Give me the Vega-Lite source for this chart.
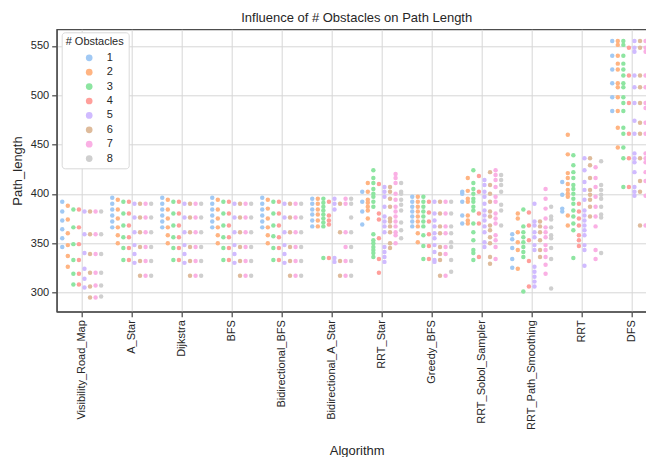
{
"$schema": "https://vega.github.io/schema/vega-lite/v6.json",
"width": 590,
"height": 282.4,
"autosize": "none",
"padding": {"left": 56.7, "top": 29.3, "right": 0, "bottom": 145.3},
"background": "white",
"config": {
  "font": "Liberation Sans",
  "view": {"stroke": "#4d4d4d", "strokeWidth": 1.25},
  "axis": {"labelFontSize": 11, "labelColor": "#262626", "titleFontSize": 13, "titleFontWeight": "normal", "titleColor": "#262626", "domainColor": "#4d4d4d", "domainWidth": 1.25, "tickColor": "#4d4d4d", "tickWidth": 1.25, "tickSize": 5, "labelPadding": 3, "gridColor": "#d6d6d6", "gridWidth": 1}
},
"title": {"text": "Influence of # Obstacles on Path Length", "fontSize": 13, "fontWeight": "normal", "color": "#262626", "anchor": "middle", "dx": 5, "offset": 4},
"data": {"values": [
{"alg":"Visibility_Road_Map","obs":1,"len":392},{"alg":"Visibility_Road_Map","obs":1,"len":382},{"alg":"Visibility_Road_Map","obs":1,"len":373},{"alg":"Visibility_Road_Map","obs":1,"len":364},{"alg":"Visibility_Road_Map","obs":1,"len":355},{"alg":"Visibility_Road_Map","obs":1,"len":346},
{"alg":"Visibility_Road_Map","obs":2,"len":388},{"alg":"Visibility_Road_Map","obs":2,"len":374},{"alg":"Visibility_Road_Map","obs":2,"len":360},{"alg":"Visibility_Road_Map","obs":2,"len":348},{"alg":"Visibility_Road_Map","obs":2,"len":337},{"alg":"Visibility_Road_Map","obs":2,"len":326},
{"alg":"Visibility_Road_Map","obs":3,"len":384},{"alg":"Visibility_Road_Map","obs":3,"len":366},{"alg":"Visibility_Road_Map","obs":3,"len":349},{"alg":"Visibility_Road_Map","obs":3,"len":333},{"alg":"Visibility_Road_Map","obs":3,"len":319},{"alg":"Visibility_Road_Map","obs":3,"len":308},
{"alg":"Visibility_Road_Map","obs":4,"len":384},{"alg":"Visibility_Road_Map","obs":4,"len":366},{"alg":"Visibility_Road_Map","obs":4,"len":349},{"alg":"Visibility_Road_Map","obs":4,"len":333},{"alg":"Visibility_Road_Map","obs":4,"len":319},{"alg":"Visibility_Road_Map","obs":4,"len":308},
{"alg":"Visibility_Road_Map","obs":5,"len":382},{"alg":"Visibility_Road_Map","obs":5,"len":359},{"alg":"Visibility_Road_Map","obs":5,"len":340},{"alg":"Visibility_Road_Map","obs":5,"len":324},{"alg":"Visibility_Road_Map","obs":5,"len":314},{"alg":"Visibility_Road_Map","obs":5,"len":305},
{"alg":"Visibility_Road_Map","obs":6,"len":382},{"alg":"Visibility_Road_Map","obs":6,"len":359},{"alg":"Visibility_Road_Map","obs":6,"len":339},{"alg":"Visibility_Road_Map","obs":6,"len":320},{"alg":"Visibility_Road_Map","obs":6,"len":306},{"alg":"Visibility_Road_Map","obs":6,"len":295},
{"alg":"Visibility_Road_Map","obs":7,"len":382},{"alg":"Visibility_Road_Map","obs":7,"len":359},{"alg":"Visibility_Road_Map","obs":7,"len":339},{"alg":"Visibility_Road_Map","obs":7,"len":320},{"alg":"Visibility_Road_Map","obs":7,"len":307},{"alg":"Visibility_Road_Map","obs":7,"len":295},
{"alg":"Visibility_Road_Map","obs":8,"len":382},{"alg":"Visibility_Road_Map","obs":8,"len":359},{"alg":"Visibility_Road_Map","obs":8,"len":339},{"alg":"Visibility_Road_Map","obs":8,"len":320},{"alg":"Visibility_Road_Map","obs":8,"len":307},{"alg":"Visibility_Road_Map","obs":8,"len":296},
{"alg":"A_Star","obs":1,"len":396},{"alg":"A_Star","obs":1,"len":390},{"alg":"A_Star","obs":1,"len":384},{"alg":"A_Star","obs":1,"len":378},{"alg":"A_Star","obs":1,"len":372},{"alg":"A_Star","obs":1,"len":366},
{"alg":"A_Star","obs":2,"len":394},{"alg":"A_Star","obs":2,"len":384},{"alg":"A_Star","obs":2,"len":375},{"alg":"A_Star","obs":2,"len":366},{"alg":"A_Star","obs":2,"len":358},{"alg":"A_Star","obs":2,"len":350},
{"alg":"A_Star","obs":3,"len":392},{"alg":"A_Star","obs":3,"len":380},{"alg":"A_Star","obs":3,"len":368},{"alg":"A_Star","obs":3,"len":356},{"alg":"A_Star","obs":3,"len":345},{"alg":"A_Star","obs":3,"len":333},
{"alg":"A_Star","obs":4,"len":392},{"alg":"A_Star","obs":4,"len":380},{"alg":"A_Star","obs":4,"len":368},{"alg":"A_Star","obs":4,"len":356},{"alg":"A_Star","obs":4,"len":345},{"alg":"A_Star","obs":4,"len":333},
{"alg":"A_Star","obs":5,"len":390},{"alg":"A_Star","obs":5,"len":376},{"alg":"A_Star","obs":5,"len":361},{"alg":"A_Star","obs":5,"len":348},{"alg":"A_Star","obs":5,"len":339},{"alg":"A_Star","obs":5,"len":330},
{"alg":"A_Star","obs":6,"len":390},{"alg":"A_Star","obs":6,"len":376},{"alg":"A_Star","obs":6,"len":361},{"alg":"A_Star","obs":6,"len":346},{"alg":"A_Star","obs":6,"len":332},{"alg":"A_Star","obs":6,"len":317},
{"alg":"A_Star","obs":7,"len":390},{"alg":"A_Star","obs":7,"len":376},{"alg":"A_Star","obs":7,"len":361},{"alg":"A_Star","obs":7,"len":346},{"alg":"A_Star","obs":7,"len":332},{"alg":"A_Star","obs":7,"len":317},
{"alg":"A_Star","obs":8,"len":390},{"alg":"A_Star","obs":8,"len":376},{"alg":"A_Star","obs":8,"len":361},{"alg":"A_Star","obs":8,"len":346},{"alg":"A_Star","obs":8,"len":332},{"alg":"A_Star","obs":8,"len":317},
{"alg":"Dijkstra","obs":1,"len":396},{"alg":"Dijkstra","obs":1,"len":390},{"alg":"Dijkstra","obs":1,"len":384},{"alg":"Dijkstra","obs":1,"len":378},{"alg":"Dijkstra","obs":1,"len":372},{"alg":"Dijkstra","obs":1,"len":366},
{"alg":"Dijkstra","obs":2,"len":394},{"alg":"Dijkstra","obs":2,"len":384},{"alg":"Dijkstra","obs":2,"len":375},{"alg":"Dijkstra","obs":2,"len":366},{"alg":"Dijkstra","obs":2,"len":358},{"alg":"Dijkstra","obs":2,"len":350},
{"alg":"Dijkstra","obs":3,"len":392},{"alg":"Dijkstra","obs":3,"len":380},{"alg":"Dijkstra","obs":3,"len":368},{"alg":"Dijkstra","obs":3,"len":356},{"alg":"Dijkstra","obs":3,"len":345},{"alg":"Dijkstra","obs":3,"len":333},
{"alg":"Dijkstra","obs":4,"len":392},{"alg":"Dijkstra","obs":4,"len":380},{"alg":"Dijkstra","obs":4,"len":368},{"alg":"Dijkstra","obs":4,"len":356},{"alg":"Dijkstra","obs":4,"len":345},{"alg":"Dijkstra","obs":4,"len":333},
{"alg":"Dijkstra","obs":5,"len":390},{"alg":"Dijkstra","obs":5,"len":376},{"alg":"Dijkstra","obs":5,"len":361},{"alg":"Dijkstra","obs":5,"len":348},{"alg":"Dijkstra","obs":5,"len":339},{"alg":"Dijkstra","obs":5,"len":330},
{"alg":"Dijkstra","obs":6,"len":390},{"alg":"Dijkstra","obs":6,"len":376},{"alg":"Dijkstra","obs":6,"len":361},{"alg":"Dijkstra","obs":6,"len":346},{"alg":"Dijkstra","obs":6,"len":332},{"alg":"Dijkstra","obs":6,"len":317},
{"alg":"Dijkstra","obs":7,"len":390},{"alg":"Dijkstra","obs":7,"len":376},{"alg":"Dijkstra","obs":7,"len":361},{"alg":"Dijkstra","obs":7,"len":346},{"alg":"Dijkstra","obs":7,"len":332},{"alg":"Dijkstra","obs":7,"len":317},
{"alg":"Dijkstra","obs":8,"len":390},{"alg":"Dijkstra","obs":8,"len":376},{"alg":"Dijkstra","obs":8,"len":361},{"alg":"Dijkstra","obs":8,"len":346},{"alg":"Dijkstra","obs":8,"len":332},{"alg":"Dijkstra","obs":8,"len":317},
{"alg":"BFS","obs":1,"len":396},{"alg":"BFS","obs":1,"len":390},{"alg":"BFS","obs":1,"len":384},{"alg":"BFS","obs":1,"len":378},{"alg":"BFS","obs":1,"len":372},{"alg":"BFS","obs":1,"len":366},
{"alg":"BFS","obs":2,"len":394},{"alg":"BFS","obs":2,"len":384},{"alg":"BFS","obs":2,"len":375},{"alg":"BFS","obs":2,"len":366},{"alg":"BFS","obs":2,"len":358},{"alg":"BFS","obs":2,"len":350},
{"alg":"BFS","obs":3,"len":392},{"alg":"BFS","obs":3,"len":380},{"alg":"BFS","obs":3,"len":368},{"alg":"BFS","obs":3,"len":356},{"alg":"BFS","obs":3,"len":345},{"alg":"BFS","obs":3,"len":333},
{"alg":"BFS","obs":4,"len":392},{"alg":"BFS","obs":4,"len":380},{"alg":"BFS","obs":4,"len":368},{"alg":"BFS","obs":4,"len":356},{"alg":"BFS","obs":4,"len":345},{"alg":"BFS","obs":4,"len":333},
{"alg":"BFS","obs":5,"len":390},{"alg":"BFS","obs":5,"len":376},{"alg":"BFS","obs":5,"len":361},{"alg":"BFS","obs":5,"len":348},{"alg":"BFS","obs":5,"len":339},{"alg":"BFS","obs":5,"len":330},
{"alg":"BFS","obs":6,"len":390},{"alg":"BFS","obs":6,"len":376},{"alg":"BFS","obs":6,"len":361},{"alg":"BFS","obs":6,"len":346},{"alg":"BFS","obs":6,"len":332},{"alg":"BFS","obs":6,"len":317},
{"alg":"BFS","obs":7,"len":390},{"alg":"BFS","obs":7,"len":376},{"alg":"BFS","obs":7,"len":361},{"alg":"BFS","obs":7,"len":346},{"alg":"BFS","obs":7,"len":332},{"alg":"BFS","obs":7,"len":317},
{"alg":"BFS","obs":8,"len":390},{"alg":"BFS","obs":8,"len":376},{"alg":"BFS","obs":8,"len":361},{"alg":"BFS","obs":8,"len":346},{"alg":"BFS","obs":8,"len":332},{"alg":"BFS","obs":8,"len":317},
{"alg":"Bidirectional_BFS","obs":1,"len":396},{"alg":"Bidirectional_BFS","obs":1,"len":390},{"alg":"Bidirectional_BFS","obs":1,"len":384},{"alg":"Bidirectional_BFS","obs":1,"len":378},{"alg":"Bidirectional_BFS","obs":1,"len":372},{"alg":"Bidirectional_BFS","obs":1,"len":366},
{"alg":"Bidirectional_BFS","obs":2,"len":394},{"alg":"Bidirectional_BFS","obs":2,"len":385},{"alg":"Bidirectional_BFS","obs":2,"len":375},{"alg":"Bidirectional_BFS","obs":2,"len":366},{"alg":"Bidirectional_BFS","obs":2,"len":358},{"alg":"Bidirectional_BFS","obs":2,"len":350},
{"alg":"Bidirectional_BFS","obs":3,"len":392},{"alg":"Bidirectional_BFS","obs":3,"len":380},{"alg":"Bidirectional_BFS","obs":3,"len":368},{"alg":"Bidirectional_BFS","obs":3,"len":357},{"alg":"Bidirectional_BFS","obs":3,"len":345},{"alg":"Bidirectional_BFS","obs":3,"len":333},
{"alg":"Bidirectional_BFS","obs":4,"len":392},{"alg":"Bidirectional_BFS","obs":4,"len":380},{"alg":"Bidirectional_BFS","obs":4,"len":368},{"alg":"Bidirectional_BFS","obs":4,"len":356},{"alg":"Bidirectional_BFS","obs":4,"len":345},{"alg":"Bidirectional_BFS","obs":4,"len":333},
{"alg":"Bidirectional_BFS","obs":5,"len":390},{"alg":"Bidirectional_BFS","obs":5,"len":376},{"alg":"Bidirectional_BFS","obs":5,"len":361},{"alg":"Bidirectional_BFS","obs":5,"len":348},{"alg":"Bidirectional_BFS","obs":5,"len":339},{"alg":"Bidirectional_BFS","obs":5,"len":330},
{"alg":"Bidirectional_BFS","obs":6,"len":390},{"alg":"Bidirectional_BFS","obs":6,"len":376},{"alg":"Bidirectional_BFS","obs":6,"len":361},{"alg":"Bidirectional_BFS","obs":6,"len":346},{"alg":"Bidirectional_BFS","obs":6,"len":332},{"alg":"Bidirectional_BFS","obs":6,"len":317},
{"alg":"Bidirectional_BFS","obs":7,"len":390},{"alg":"Bidirectional_BFS","obs":7,"len":376},{"alg":"Bidirectional_BFS","obs":7,"len":361},{"alg":"Bidirectional_BFS","obs":7,"len":346},{"alg":"Bidirectional_BFS","obs":7,"len":332},{"alg":"Bidirectional_BFS","obs":7,"len":317},
{"alg":"Bidirectional_BFS","obs":8,"len":390},{"alg":"Bidirectional_BFS","obs":8,"len":376},{"alg":"Bidirectional_BFS","obs":8,"len":361},{"alg":"Bidirectional_BFS","obs":8,"len":346},{"alg":"Bidirectional_BFS","obs":8,"len":332},{"alg":"Bidirectional_BFS","obs":8,"len":317},
{"alg":"Bidirectional_A_Star","obs":1,"len":395},{"alg":"Bidirectional_A_Star","obs":1,"len":390},{"alg":"Bidirectional_A_Star","obs":1,"len":384},{"alg":"Bidirectional_A_Star","obs":1,"len":379},{"alg":"Bidirectional_A_Star","obs":1,"len":373},{"alg":"Bidirectional_A_Star","obs":1,"len":367},
{"alg":"Bidirectional_A_Star","obs":2,"len":395},{"alg":"Bidirectional_A_Star","obs":2,"len":390},{"alg":"Bidirectional_A_Star","obs":2,"len":384},{"alg":"Bidirectional_A_Star","obs":2,"len":379},{"alg":"Bidirectional_A_Star","obs":2,"len":373},{"alg":"Bidirectional_A_Star","obs":2,"len":367},
{"alg":"Bidirectional_A_Star","obs":3,"len":395},{"alg":"Bidirectional_A_Star","obs":3,"len":391},{"alg":"Bidirectional_A_Star","obs":3,"len":387},{"alg":"Bidirectional_A_Star","obs":3,"len":383},{"alg":"Bidirectional_A_Star","obs":3,"len":379},{"alg":"Bidirectional_A_Star","obs":3,"len":375},{"alg":"Bidirectional_A_Star","obs":3,"len":371},{"alg":"Bidirectional_A_Star","obs":3,"len":367},{"alg":"Bidirectional_A_Star","obs":3,"len":335},
{"alg":"Bidirectional_A_Star","obs":4,"len":392},{"alg":"Bidirectional_A_Star","obs":4,"len":378},{"alg":"Bidirectional_A_Star","obs":4,"len":373},{"alg":"Bidirectional_A_Star","obs":4,"len":369},{"alg":"Bidirectional_A_Star","obs":4,"len":335},
{"alg":"Bidirectional_A_Star","obs":5,"len":395},{"alg":"Bidirectional_A_Star","obs":5,"len":390},{"alg":"Bidirectional_A_Star","obs":5,"len":384},{"alg":"Bidirectional_A_Star","obs":5,"len":335},{"alg":"Bidirectional_A_Star","obs":5,"len":331},
{"alg":"Bidirectional_A_Star","obs":6,"len":390},{"alg":"Bidirectional_A_Star","obs":6,"len":361},{"alg":"Bidirectional_A_Star","obs":6,"len":332},{"alg":"Bidirectional_A_Star","obs":6,"len":317},
{"alg":"Bidirectional_A_Star","obs":7,"len":395},{"alg":"Bidirectional_A_Star","obs":7,"len":390},{"alg":"Bidirectional_A_Star","obs":7,"len":361},{"alg":"Bidirectional_A_Star","obs":7,"len":346},{"alg":"Bidirectional_A_Star","obs":7,"len":332},{"alg":"Bidirectional_A_Star","obs":7,"len":317},
{"alg":"Bidirectional_A_Star","obs":8,"len":395},{"alg":"Bidirectional_A_Star","obs":8,"len":390},{"alg":"Bidirectional_A_Star","obs":8,"len":376},{"alg":"Bidirectional_A_Star","obs":8,"len":361},{"alg":"Bidirectional_A_Star","obs":8,"len":346},{"alg":"Bidirectional_A_Star","obs":8,"len":332},{"alg":"Bidirectional_A_Star","obs":8,"len":317},
{"alg":"RRT_Star","obs":1,"len":402},{"alg":"RRT_Star","obs":1,"len":392},{"alg":"RRT_Star","obs":1,"len":382},{"alg":"RRT_Star","obs":1,"len":369},
{"alg":"RRT_Star","obs":2,"len":411},{"alg":"RRT_Star","obs":2,"len":402},{"alg":"RRT_Star","obs":2,"len":394},{"alg":"RRT_Star","obs":2,"len":391},{"alg":"RRT_Star","obs":2,"len":387},{"alg":"RRT_Star","obs":2,"len":383},{"alg":"RRT_Star","obs":2,"len":375},
{"alg":"RRT_Star","obs":3,"len":424},{"alg":"RRT_Star","obs":3,"len":416},{"alg":"RRT_Star","obs":3,"len":411},{"alg":"RRT_Star","obs":3,"len":405},{"alg":"RRT_Star","obs":3,"len":400},{"alg":"RRT_Star","obs":3,"len":397},{"alg":"RRT_Star","obs":3,"len":392},{"alg":"RRT_Star","obs":3,"len":387},{"alg":"RRT_Star","obs":3,"len":359},{"alg":"RRT_Star","obs":3,"len":353},{"alg":"RRT_Star","obs":3,"len":350},{"alg":"RRT_Star","obs":3,"len":346},{"alg":"RRT_Star","obs":3,"len":343},{"alg":"RRT_Star","obs":3,"len":340},{"alg":"RRT_Star","obs":3,"len":336},
{"alg":"RRT_Star","obs":4,"len":410},{"alg":"RRT_Star","obs":4,"len":380},{"alg":"RRT_Star","obs":4,"len":374},{"alg":"RRT_Star","obs":4,"len":355},{"alg":"RRT_Star","obs":4,"len":334},{"alg":"RRT_Star","obs":4,"len":320},
{"alg":"RRT_Star","obs":5,"len":407},{"alg":"RRT_Star","obs":5,"len":402},{"alg":"RRT_Star","obs":5,"len":397},{"alg":"RRT_Star","obs":5,"len":387},{"alg":"RRT_Star","obs":5,"len":377},{"alg":"RRT_Star","obs":5,"len":372},{"alg":"RRT_Star","obs":5,"len":367},{"alg":"RRT_Star","obs":5,"len":361},{"alg":"RRT_Star","obs":5,"len":346},{"alg":"RRT_Star","obs":5,"len":341},{"alg":"RRT_Star","obs":5,"len":336},{"alg":"RRT_Star","obs":5,"len":331},
{"alg":"RRT_Star","obs":6,"len":407},{"alg":"RRT_Star","obs":6,"len":402},{"alg":"RRT_Star","obs":6,"len":395},{"alg":"RRT_Star","obs":6,"len":387},{"alg":"RRT_Star","obs":6,"len":375},{"alg":"RRT_Star","obs":6,"len":372},{"alg":"RRT_Star","obs":6,"len":367},{"alg":"RRT_Star","obs":6,"len":361},{"alg":"RRT_Star","obs":6,"len":350},{"alg":"RRT_Star","obs":6,"len":345},
{"alg":"RRT_Star","obs":7,"len":420},{"alg":"RRT_Star","obs":7,"len":416},{"alg":"RRT_Star","obs":7,"len":411},{"alg":"RRT_Star","obs":7,"len":400},{"alg":"RRT_Star","obs":7,"len":394},{"alg":"RRT_Star","obs":7,"len":387},{"alg":"RRT_Star","obs":7,"len":382},{"alg":"RRT_Star","obs":7,"len":377},{"alg":"RRT_Star","obs":7,"len":372},{"alg":"RRT_Star","obs":7,"len":367},{"alg":"RRT_Star","obs":7,"len":361},{"alg":"RRT_Star","obs":7,"len":358},{"alg":"RRT_Star","obs":7,"len":350},
{"alg":"RRT_Star","obs":8,"len":411},{"alg":"RRT_Star","obs":8,"len":402},{"alg":"RRT_Star","obs":8,"len":400},{"alg":"RRT_Star","obs":8,"len":394},{"alg":"RRT_Star","obs":8,"len":389},{"alg":"RRT_Star","obs":8,"len":383},{"alg":"RRT_Star","obs":8,"len":371},{"alg":"RRT_Star","obs":8,"len":363},{"alg":"RRT_Star","obs":8,"len":355},
{"alg":"Greedy_BFS","obs":1,"len":397},{"alg":"Greedy_BFS","obs":1,"len":392},{"alg":"Greedy_BFS","obs":1,"len":387},{"alg":"Greedy_BFS","obs":1,"len":382},{"alg":"Greedy_BFS","obs":1,"len":377},{"alg":"Greedy_BFS","obs":1,"len":372},{"alg":"Greedy_BFS","obs":1,"len":367},
{"alg":"Greedy_BFS","obs":2,"len":397},{"alg":"Greedy_BFS","obs":2,"len":392},{"alg":"Greedy_BFS","obs":2,"len":387},{"alg":"Greedy_BFS","obs":2,"len":382},{"alg":"Greedy_BFS","obs":2,"len":377},{"alg":"Greedy_BFS","obs":2,"len":372},{"alg":"Greedy_BFS","obs":2,"len":367},{"alg":"Greedy_BFS","obs":2,"len":360},{"alg":"Greedy_BFS","obs":2,"len":351},
{"alg":"Greedy_BFS","obs":3,"len":397},{"alg":"Greedy_BFS","obs":3,"len":392},{"alg":"Greedy_BFS","obs":3,"len":387},{"alg":"Greedy_BFS","obs":3,"len":382},{"alg":"Greedy_BFS","obs":3,"len":377},{"alg":"Greedy_BFS","obs":3,"len":372},{"alg":"Greedy_BFS","obs":3,"len":367},{"alg":"Greedy_BFS","obs":3,"len":358},{"alg":"Greedy_BFS","obs":3,"len":347},{"alg":"Greedy_BFS","obs":3,"len":334},
{"alg":"Greedy_BFS","obs":4,"len":392},{"alg":"Greedy_BFS","obs":4,"len":381},{"alg":"Greedy_BFS","obs":4,"len":372},{"alg":"Greedy_BFS","obs":4,"len":359},{"alg":"Greedy_BFS","obs":4,"len":347},{"alg":"Greedy_BFS","obs":4,"len":334},
{"alg":"Greedy_BFS","obs":5,"len":392},{"alg":"Greedy_BFS","obs":5,"len":380},{"alg":"Greedy_BFS","obs":5,"len":373},{"alg":"Greedy_BFS","obs":5,"len":367},{"alg":"Greedy_BFS","obs":5,"len":360},{"alg":"Greedy_BFS","obs":5,"len":355},{"alg":"Greedy_BFS","obs":5,"len":348},{"alg":"Greedy_BFS","obs":5,"len":341},{"alg":"Greedy_BFS","obs":5,"len":333},{"alg":"Greedy_BFS","obs":5,"len":331},
{"alg":"Greedy_BFS","obs":6,"len":392},{"alg":"Greedy_BFS","obs":6,"len":380},{"alg":"Greedy_BFS","obs":6,"len":367},{"alg":"Greedy_BFS","obs":6,"len":360},{"alg":"Greedy_BFS","obs":6,"len":346},{"alg":"Greedy_BFS","obs":6,"len":339},{"alg":"Greedy_BFS","obs":6,"len":333},{"alg":"Greedy_BFS","obs":6,"len":317},
{"alg":"Greedy_BFS","obs":7,"len":392},{"alg":"Greedy_BFS","obs":7,"len":380},{"alg":"Greedy_BFS","obs":7,"len":367},{"alg":"Greedy_BFS","obs":7,"len":360},{"alg":"Greedy_BFS","obs":7,"len":346},{"alg":"Greedy_BFS","obs":7,"len":339},{"alg":"Greedy_BFS","obs":7,"len":317},
{"alg":"Greedy_BFS","obs":8,"len":392},{"alg":"Greedy_BFS","obs":8,"len":380},{"alg":"Greedy_BFS","obs":8,"len":367},{"alg":"Greedy_BFS","obs":8,"len":360},{"alg":"Greedy_BFS","obs":8,"len":351},{"alg":"Greedy_BFS","obs":8,"len":346},{"alg":"Greedy_BFS","obs":8,"len":333},{"alg":"Greedy_BFS","obs":8,"len":321},
{"alg":"RRT_Sobol_Sampler","obs":1,"len":402},{"alg":"RRT_Sobol_Sampler","obs":1,"len":400},{"alg":"RRT_Sobol_Sampler","obs":1,"len":392},{"alg":"RRT_Sobol_Sampler","obs":1,"len":378},{"alg":"RRT_Sobol_Sampler","obs":1,"len":370},
{"alg":"RRT_Sobol_Sampler","obs":2,"len":416},{"alg":"RRT_Sobol_Sampler","obs":2,"len":403},{"alg":"RRT_Sobol_Sampler","obs":2,"len":395},{"alg":"RRT_Sobol_Sampler","obs":2,"len":392},{"alg":"RRT_Sobol_Sampler","obs":2,"len":378},{"alg":"RRT_Sobol_Sampler","obs":2,"len":373},{"alg":"RRT_Sobol_Sampler","obs":2,"len":370},
{"alg":"RRT_Sobol_Sampler","obs":3,"len":424},{"alg":"RRT_Sobol_Sampler","obs":3,"len":411},{"alg":"RRT_Sobol_Sampler","obs":3,"len":405},{"alg":"RRT_Sobol_Sampler","obs":3,"len":400},{"alg":"RRT_Sobol_Sampler","obs":3,"len":395},{"alg":"RRT_Sobol_Sampler","obs":3,"len":392},{"alg":"RRT_Sobol_Sampler","obs":3,"len":387},{"alg":"RRT_Sobol_Sampler","obs":3,"len":383},{"alg":"RRT_Sobol_Sampler","obs":3,"len":370},{"alg":"RRT_Sobol_Sampler","obs":3,"len":361},{"alg":"RRT_Sobol_Sampler","obs":3,"len":353},{"alg":"RRT_Sobol_Sampler","obs":3,"len":343},{"alg":"RRT_Sobol_Sampler","obs":3,"len":340},{"alg":"RRT_Sobol_Sampler","obs":3,"len":333},
{"alg":"RRT_Sobol_Sampler","obs":4,"len":418},{"alg":"RRT_Sobol_Sampler","obs":4,"len":402},{"alg":"RRT_Sobol_Sampler","obs":4,"len":380},{"alg":"RRT_Sobol_Sampler","obs":4,"len":370},{"alg":"RRT_Sobol_Sampler","obs":4,"len":336},
{"alg":"RRT_Sobol_Sampler","obs":5,"len":414},{"alg":"RRT_Sobol_Sampler","obs":5,"len":409},{"alg":"RRT_Sobol_Sampler","obs":5,"len":402},{"alg":"RRT_Sobol_Sampler","obs":5,"len":397},{"alg":"RRT_Sobol_Sampler","obs":5,"len":390},{"alg":"RRT_Sobol_Sampler","obs":5,"len":383},{"alg":"RRT_Sobol_Sampler","obs":5,"len":378},{"alg":"RRT_Sobol_Sampler","obs":5,"len":373},{"alg":"RRT_Sobol_Sampler","obs":5,"len":367},{"alg":"RRT_Sobol_Sampler","obs":5,"len":361},{"alg":"RRT_Sobol_Sampler","obs":5,"len":351},{"alg":"RRT_Sobol_Sampler","obs":5,"len":346},
{"alg":"RRT_Sobol_Sampler","obs":6,"len":422},{"alg":"RRT_Sobol_Sampler","obs":6,"len":409},{"alg":"RRT_Sobol_Sampler","obs":6,"len":400},{"alg":"RRT_Sobol_Sampler","obs":6,"len":392},{"alg":"RRT_Sobol_Sampler","obs":6,"len":382},{"alg":"RRT_Sobol_Sampler","obs":6,"len":377},{"alg":"RRT_Sobol_Sampler","obs":6,"len":368},{"alg":"RRT_Sobol_Sampler","obs":6,"len":363},{"alg":"RRT_Sobol_Sampler","obs":6,"len":356},{"alg":"RRT_Sobol_Sampler","obs":6,"len":350},{"alg":"RRT_Sobol_Sampler","obs":6,"len":336},{"alg":"RRT_Sobol_Sampler","obs":6,"len":329},
{"alg":"RRT_Sobol_Sampler","obs":7,"len":424},{"alg":"RRT_Sobol_Sampler","obs":7,"len":419},{"alg":"RRT_Sobol_Sampler","obs":7,"len":414},{"alg":"RRT_Sobol_Sampler","obs":7,"len":407},{"alg":"RRT_Sobol_Sampler","obs":7,"len":397},{"alg":"RRT_Sobol_Sampler","obs":7,"len":392},{"alg":"RRT_Sobol_Sampler","obs":7,"len":380},{"alg":"RRT_Sobol_Sampler","obs":7,"len":375},{"alg":"RRT_Sobol_Sampler","obs":7,"len":370},{"alg":"RRT_Sobol_Sampler","obs":7,"len":358},{"alg":"RRT_Sobol_Sampler","obs":7,"len":353},{"alg":"RRT_Sobol_Sampler","obs":7,"len":346},{"alg":"RRT_Sobol_Sampler","obs":7,"len":334},
{"alg":"RRT_Sobol_Sampler","obs":8,"len":419},{"alg":"RRT_Sobol_Sampler","obs":8,"len":414},{"alg":"RRT_Sobol_Sampler","obs":8,"len":409},{"alg":"RRT_Sobol_Sampler","obs":8,"len":402},{"alg":"RRT_Sobol_Sampler","obs":8,"len":389},{"alg":"RRT_Sobol_Sampler","obs":8,"len":383},{"alg":"RRT_Sobol_Sampler","obs":8,"len":368},
{"alg":"RRT_Path_Smoothing","obs":1,"len":359},{"alg":"RRT_Path_Smoothing","obs":1,"len":354},{"alg":"RRT_Path_Smoothing","obs":1,"len":345},{"alg":"RRT_Path_Smoothing","obs":1,"len":334},{"alg":"RRT_Path_Smoothing","obs":1,"len":325},
{"alg":"RRT_Path_Smoothing","obs":2,"len":380},{"alg":"RRT_Path_Smoothing","obs":2,"len":375},{"alg":"RRT_Path_Smoothing","obs":2,"len":361},{"alg":"RRT_Path_Smoothing","obs":2,"len":351},{"alg":"RRT_Path_Smoothing","obs":2,"len":343},{"alg":"RRT_Path_Smoothing","obs":2,"len":324},
{"alg":"RRT_Path_Smoothing","obs":3,"len":384},{"alg":"RRT_Path_Smoothing","obs":3,"len":367},{"alg":"RRT_Path_Smoothing","obs":3,"len":361},{"alg":"RRT_Path_Smoothing","obs":3,"len":356},{"alg":"RRT_Path_Smoothing","obs":3,"len":351},{"alg":"RRT_Path_Smoothing","obs":3,"len":346},{"alg":"RRT_Path_Smoothing","obs":3,"len":341},{"alg":"RRT_Path_Smoothing","obs":3,"len":336},{"alg":"RRT_Path_Smoothing","obs":3,"len":301},
{"alg":"RRT_Path_Smoothing","obs":4,"len":381},{"alg":"RRT_Path_Smoothing","obs":4,"len":368},{"alg":"RRT_Path_Smoothing","obs":4,"len":353},{"alg":"RRT_Path_Smoothing","obs":4,"len":332},{"alg":"RRT_Path_Smoothing","obs":4,"len":306},
{"alg":"RRT_Path_Smoothing","obs":5,"len":390},{"alg":"RRT_Path_Smoothing","obs":5,"len":372},{"alg":"RRT_Path_Smoothing","obs":5,"len":368},{"alg":"RRT_Path_Smoothing","obs":5,"len":361},{"alg":"RRT_Path_Smoothing","obs":5,"len":356},{"alg":"RRT_Path_Smoothing","obs":5,"len":348},{"alg":"RRT_Path_Smoothing","obs":5,"len":343},{"alg":"RRT_Path_Smoothing","obs":5,"len":326},{"alg":"RRT_Path_Smoothing","obs":5,"len":321},{"alg":"RRT_Path_Smoothing","obs":5,"len":316},{"alg":"RRT_Path_Smoothing","obs":5,"len":311},{"alg":"RRT_Path_Smoothing","obs":5,"len":306},
{"alg":"RRT_Path_Smoothing","obs":6,"len":372},{"alg":"RRT_Path_Smoothing","obs":6,"len":367},{"alg":"RRT_Path_Smoothing","obs":6,"len":361},{"alg":"RRT_Path_Smoothing","obs":6,"len":353},{"alg":"RRT_Path_Smoothing","obs":6,"len":343},{"alg":"RRT_Path_Smoothing","obs":6,"len":336},
{"alg":"RRT_Path_Smoothing","obs":7,"len":405},{"alg":"RRT_Path_Smoothing","obs":7,"len":395},{"alg":"RRT_Path_Smoothing","obs":7,"len":385},{"alg":"RRT_Path_Smoothing","obs":7,"len":375},{"alg":"RRT_Path_Smoothing","obs":7,"len":366},{"alg":"RRT_Path_Smoothing","obs":7,"len":361},{"alg":"RRT_Path_Smoothing","obs":7,"len":356},{"alg":"RRT_Path_Smoothing","obs":7,"len":348},{"alg":"RRT_Path_Smoothing","obs":7,"len":343},{"alg":"RRT_Path_Smoothing","obs":7,"len":336},{"alg":"RRT_Path_Smoothing","obs":7,"len":328},{"alg":"RRT_Path_Smoothing","obs":7,"len":319},
{"alg":"RRT_Path_Smoothing","obs":8,"len":387},{"alg":"RRT_Path_Smoothing","obs":8,"len":377},{"alg":"RRT_Path_Smoothing","obs":8,"len":374},{"alg":"RRT_Path_Smoothing","obs":8,"len":366},{"alg":"RRT_Path_Smoothing","obs":8,"len":358},{"alg":"RRT_Path_Smoothing","obs":8,"len":355},{"alg":"RRT_Path_Smoothing","obs":8,"len":345},{"alg":"RRT_Path_Smoothing","obs":8,"len":334},{"alg":"RRT_Path_Smoothing","obs":8,"len":304},
{"alg":"RRT","obs":1,"len":412},{"alg":"RRT","obs":1,"len":399},{"alg":"RRT","obs":1,"len":385},{"alg":"RRT","obs":1,"len":382},
{"alg":"RRT","obs":2,"len":460},{"alg":"RRT","obs":2,"len":440},{"alg":"RRT","obs":2,"len":421},{"alg":"RRT","obs":2,"len":416},{"alg":"RRT","obs":2,"len":410},{"alg":"RRT","obs":2,"len":404},{"alg":"RRT","obs":2,"len":400},{"alg":"RRT","obs":2,"len":397},{"alg":"RRT","obs":2,"len":378},{"alg":"RRT","obs":2,"len":368},
{"alg":"RRT","obs":3,"len":439},{"alg":"RRT","obs":3,"len":429},{"alg":"RRT","obs":3,"len":422},{"alg":"RRT","obs":3,"len":416},{"alg":"RRT","obs":3,"len":409},{"alg":"RRT","obs":3,"len":405},{"alg":"RRT","obs":3,"len":400},{"alg":"RRT","obs":3,"len":395},{"alg":"RRT","obs":3,"len":390},{"alg":"RRT","obs":3,"len":383},{"alg":"RRT","obs":3,"len":377},{"alg":"RRT","obs":3,"len":370},{"alg":"RRT","obs":3,"len":363},{"alg":"RRT","obs":3,"len":335},
{"alg":"RRT","obs":4,"len":390},{"alg":"RRT","obs":4,"len":382},{"alg":"RRT","obs":4,"len":375},{"alg":"RRT","obs":4,"len":368},{"alg":"RRT","obs":4,"len":358},{"alg":"RRT","obs":4,"len":353},{"alg":"RRT","obs":4,"len":347},
{"alg":"RRT","obs":5,"len":436},{"alg":"RRT","obs":5,"len":424},{"alg":"RRT","obs":5,"len":412},{"alg":"RRT","obs":5,"len":404},{"alg":"RRT","obs":5,"len":394},{"alg":"RRT","obs":5,"len":383},{"alg":"RRT","obs":5,"len":378},{"alg":"RRT","obs":5,"len":373},{"alg":"RRT","obs":5,"len":368},{"alg":"RRT","obs":5,"len":363},{"alg":"RRT","obs":5,"len":358},{"alg":"RRT","obs":5,"len":348},{"alg":"RRT","obs":5,"len":343},{"alg":"RRT","obs":5,"len":327},
{"alg":"RRT","obs":6,"len":436},{"alg":"RRT","obs":6,"len":429},{"alg":"RRT","obs":6,"len":416},{"alg":"RRT","obs":6,"len":404},{"alg":"RRT","obs":6,"len":399},{"alg":"RRT","obs":6,"len":394},{"alg":"RRT","obs":6,"len":387},{"alg":"RRT","obs":6,"len":377},
{"alg":"RRT","obs":7,"len":427},{"alg":"RRT","obs":7,"len":416},{"alg":"RRT","obs":7,"len":407},{"alg":"RRT","obs":7,"len":397},{"alg":"RRT","obs":7,"len":387},{"alg":"RRT","obs":7,"len":377},{"alg":"RRT","obs":7,"len":367},{"alg":"RRT","obs":7,"len":343},{"alg":"RRT","obs":7,"len":334},
{"alg":"RRT","obs":8,"len":433},{"alg":"RRT","obs":8,"len":409},{"alg":"RRT","obs":8,"len":404},{"alg":"RRT","obs":8,"len":399},{"alg":"RRT","obs":8,"len":395},{"alg":"RRT","obs":8,"len":387},{"alg":"RRT","obs":8,"len":379},{"alg":"RRT","obs":8,"len":376},{"alg":"RRT","obs":8,"len":340},
{"alg":"DFS","obs":1,"len":555},{"alg":"DFS","obs":1,"len":540},{"alg":"DFS","obs":1,"len":526},{"alg":"DFS","obs":1,"len":512},{"alg":"DFS","obs":1,"len":498},{"alg":"DFS","obs":1,"len":484},
{"alg":"DFS","obs":2,"len":555},{"alg":"DFS","obs":2,"len":551},{"alg":"DFS","obs":2,"len":540},{"alg":"DFS","obs":2,"len":532},{"alg":"DFS","obs":2,"len":526},{"alg":"DFS","obs":2,"len":512},{"alg":"DFS","obs":2,"len":508},{"alg":"DFS","obs":2,"len":498},{"alg":"DFS","obs":2,"len":484},{"alg":"DFS","obs":2,"len":467},{"alg":"DFS","obs":2,"len":447},
{"alg":"DFS","obs":3,"len":555},{"alg":"DFS","obs":3,"len":551},{"alg":"DFS","obs":3,"len":540},{"alg":"DFS","obs":3,"len":532},{"alg":"DFS","obs":3,"len":526},{"alg":"DFS","obs":3,"len":520},{"alg":"DFS","obs":3,"len":512},{"alg":"DFS","obs":3,"len":508},{"alg":"DFS","obs":3,"len":498},{"alg":"DFS","obs":3,"len":492},{"alg":"DFS","obs":3,"len":484},{"alg":"DFS","obs":3,"len":467},{"alg":"DFS","obs":3,"len":461},{"alg":"DFS","obs":3,"len":447},{"alg":"DFS","obs":3,"len":436},{"alg":"DFS","obs":3,"len":407},
{"alg":"DFS","obs":4,"len":548},{"alg":"DFS","obs":4,"len":520},{"alg":"DFS","obs":4,"len":492},{"alg":"DFS","obs":4,"len":461},{"alg":"DFS","obs":4,"len":436},{"alg":"DFS","obs":4,"len":407},
{"alg":"DFS","obs":5,"len":555},{"alg":"DFS","obs":5,"len":548},{"alg":"DFS","obs":5,"len":544},{"alg":"DFS","obs":5,"len":520},{"alg":"DFS","obs":5,"len":508},{"alg":"DFS","obs":5,"len":492},{"alg":"DFS","obs":5,"len":474},{"alg":"DFS","obs":5,"len":461},{"alg":"DFS","obs":5,"len":441},{"alg":"DFS","obs":5,"len":436},{"alg":"DFS","obs":5,"len":432},{"alg":"DFS","obs":5,"len":422},{"alg":"DFS","obs":5,"len":407},{"alg":"DFS","obs":5,"len":402},{"alg":"DFS","obs":5,"len":398},
{"alg":"DFS","obs":6,"len":555},{"alg":"DFS","obs":6,"len":548},{"alg":"DFS","obs":6,"len":520},{"alg":"DFS","obs":6,"len":508},{"alg":"DFS","obs":6,"len":492},{"alg":"DFS","obs":6,"len":472},{"alg":"DFS","obs":6,"len":461},{"alg":"DFS","obs":6,"len":436},{"alg":"DFS","obs":6,"len":413},{"alg":"DFS","obs":6,"len":402},{"alg":"DFS","obs":6,"len":368},
{"alg":"DFS","obs":7,"len":555},{"alg":"DFS","obs":7,"len":548},{"alg":"DFS","obs":7,"len":544},{"alg":"DFS","obs":7,"len":520},{"alg":"DFS","obs":7,"len":508},{"alg":"DFS","obs":7,"len":492},{"alg":"DFS","obs":7,"len":487},{"alg":"DFS","obs":7,"len":472},{"alg":"DFS","obs":7,"len":461},{"alg":"DFS","obs":7,"len":441},{"alg":"DFS","obs":7,"len":436},{"alg":"DFS","obs":7,"len":432},{"alg":"DFS","obs":7,"len":422},{"alg":"DFS","obs":7,"len":413},{"alg":"DFS","obs":7,"len":398},{"alg":"DFS","obs":7,"len":368},
{"alg":"DFS","obs":8,"len":555},{"alg":"DFS","obs":8,"len":548},{"alg":"DFS","obs":8,"len":520},{"alg":"DFS","obs":8,"len":508},{"alg":"DFS","obs":8,"len":492},{"alg":"DFS","obs":8,"len":472},{"alg":"DFS","obs":8,"len":461},{"alg":"DFS","obs":8,"len":436},{"alg":"DFS","obs":8,"len":413},{"alg":"DFS","obs":8,"len":402},{"alg":"DFS","obs":8,"len":368}
]},
"mark": {"type": "circle", "size": 20, "opacity": 1, "clip": true},
"encoding": {
  "x": {"field": "alg", "type": "nominal", "title": "Algorithm",
    "sort": ["Visibility_Road_Map","A_Star","Dijkstra","BFS","Bidirectional_BFS","Bidirectional_A_Star","RRT_Star","Greedy_BFS","RRT_Sobol_Sampler","RRT_Path_Smoothing","RRT","DFS"],
    "scale": {"range": [0, 600], "paddingInner": 0, "paddingOuter": 0},
    "axis": {"labelAngle": 270, "grid": true, "titlePadding": 15}},
  "xOffset": {"field": "obs", "type": "nominal", "scale": {"paddingInner": 0, "paddingOuter": 1}},
  "y": {"field": "len", "type": "quantitative", "title": "Path_length",
    "scale": {"domain": [280.5, 566.8], "nice": false, "zero": false},
    "axis": {"values": [300, 350, 400, 450, 500, 550], "grid": true, "titlePadding": 6}},
  "color": {"field": "obs", "type": "nominal", "title": "# Obstacles",
    "scale": {"range": ["#a1c9f4","#ffb482","#8de5a1","#ff9f9b","#d0bbff","#debb9b","#fab0e4","#cfcfcf"]},
    "legend": {"orient": "none", "legendX": 5, "legendY": 3, "padding": 4, "fillColor": "white", "strokeColor": "#d9d9d9", "cornerRadius": 3, "titleFontSize": 11, "titleFontWeight": "normal", "titleColor": "#262626", "labelFontSize": 11, "labelColor": "#262626", "symbolType": "circle", "symbolSize": 45, "symbolOffset": 18, "labelOffset": 12, "rowPadding": 2.4, "titlePadding": 5, "symbolStrokeWidth": 0}}
}
}
